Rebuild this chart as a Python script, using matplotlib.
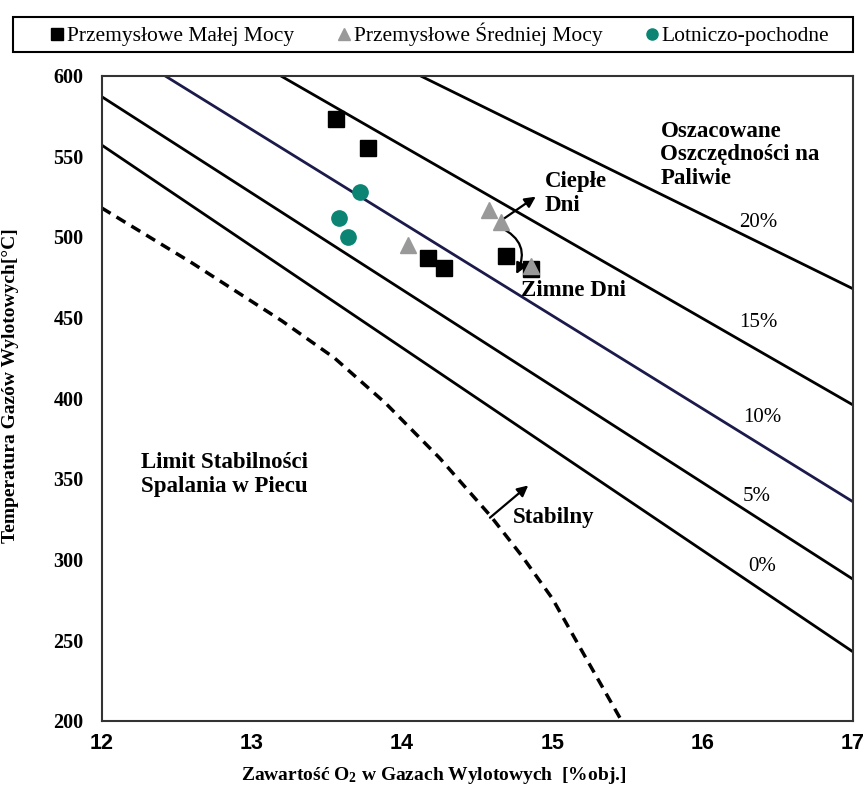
import matplotlib
matplotlib.use("Agg")
import matplotlib.pyplot as plt
from matplotlib.lines import Line2D
from matplotlib.patches import Rectangle

# measured points
small_x = [13.56, 13.77, 14.17, 14.28, 14.69, 14.86]
small_y = [573, 555, 487, 481, 488, 480]
medium_x = [14.04, 14.58, 14.66, 14.86]
medium_y = [495, 517, 509, 482]
aero_x = [13.58, 13.64, 13.72]
aero_y = [512, 500, 528]

# fuel savings lines (start / end points)
savings_labels = ['0%', '5%', '10%', '15%', '20%']
line_x0 = [12.0, 12.0, 12.42, 13.19, 14.12]
line_y0 = [557, 587, 600, 600, 600]
line_x1 = [17.0, 17.0, 17.0, 17.0, 17.0]
line_y1 = [243, 288, 336, 396, 468]
label_x = [16.40, 16.36, 16.40, 16.37, 16.37]
label_y = [296, 339, 388, 447, 509]

# furnace stability limit
limit_x = [12.0, 12.6, 13.2, 13.55, 13.89, 14.25, 14.59, 14.8, 15.0, 15.2, 15.45]
limit_y = [518, 484, 448, 425, 397, 363, 327, 302, 276, 243, 202]

plt.rcParams['font.family'] = ['Liberation Serif', 'DejaVu Serif']
plt.rcParams['mathtext.fontset'] = 'custom'
plt.rcParams['mathtext.rm'] = 'Liberation Serif:bold'
plt.rcParams['mathtext.bf'] = 'Liberation Serif:bold'
plt.rcParams['mathtext.it'] = 'Liberation Serif:bold:italic'

fig = plt.figure(figsize=(8.66, 7.89), dpi=100)
ax = fig.add_axes([0.1174, 0.0862, 0.8672, 0.8179])

for i, lab in enumerate(savings_labels):
    col = '#1b1a4a' if lab == '10%' else 'black'
    ax.plot([line_x0[i], line_x1[i]], [line_y0[i], line_y1[i]], color=col, lw=2)
    ax.text(label_x[i], label_y[i], lab, fontsize=15, ha='center', va='center')

ax.plot(limit_x, limit_y, color='black', lw=2.5, ls=(0, (3, 2)))

ax.plot(small_x, small_y, 's', color='black', ms=11, zorder=3)
ax.plot(medium_x, medium_y, '^', color='#999999', ms=11, zorder=4)
ax.plot(aero_x, aero_y, 'o', color='#0b8474', ms=11, zorder=3)

bold = dict(fontsize=16.5, fontweight='bold')
ax.text(15.72, 530, 'Oszacowane\nOszczędności na\nPaliwie', ha='left', va='bottom',
        linespacing=1.15, **bold)
ax.text(14.95, 527, 'Ciepłe\nDni', ha='left', va='center', linespacing=1.2, **bold)
ax.text(14.79, 467, 'Zimne Dni', ha='left', va='center', **bold)
ax.text(12.26, 353, 'Limit Stabilności\nSpalania w Piecu', ha='left', va='center',
        linespacing=1.2, **bold)
ax.text(14.74, 326, 'Stabilny', ha='left', va='center', **bold)

arrow = dict(arrowstyle='-|>', color='black', lw=1.6, mutation_scale=16,
             shrinkA=0, shrinkB=0)
ax.annotate('', xy=(14.89, 525), xytext=(14.672, 511), arrowprops=arrow)
ax.annotate('', xy=(14.84, 346), xytext=(14.585, 326), arrowprops=arrow)
curved = dict(arrow, connectionstyle='arc3,rad=-0.5')
ax.annotate('', xy=(14.76, 477), xytext=(14.655, 506), arrowprops=curved)

ax.set_xlim(12, 17)
ax.set_ylim(200, 600)
ax.set_xticks([12, 13, 14, 15, 16, 17])
ax.set_yticks(range(200, 601, 50))
ax.tick_params(length=0)
ax.tick_params(axis='y', pad=13, labelsize=14.5)
ax.tick_params(axis='x', pad=9, labelsize=15.5)
for t in ax.get_yticklabels():
    t.set_fontweight('bold')
for t in ax.get_xticklabels():
    t.set_fontweight('bold')
    t.set_family(['Liberation Sans Narrow', 'Liberation Sans'])
for s in ax.spines.values():
    s.set_linewidth(1.5)
    s.set_color('#333333')

ax.set_xlabel('Zawartość O$_2$ w Gazach Wylotowych  [%obj.]', fontsize=14,
              fontweight='bold')
ax.set_ylabel('Temperatura Gazów Wylotowych[°C]', fontsize=14, fontweight='bold')
ax.xaxis.set_label_coords(0.442, -0.068)
ax.yaxis.set_label_coords(-0.11, 0.52)

# legend box across the top
fig.patches.append(Rectangle((13 / 866, 1 - 52 / 789), 840 / 866, 35 / 789,
                             transform=fig.transFigure, fill=False,
                             edgecolor='black', lw=1.5))
handles = [
    Line2D([], [], ls='none', marker='s', color='black', ms=8),
    Line2D([], [], ls='none', marker='^', color='#999999', ms=8),
    Line2D([], [], ls='none', marker='o', color='#0b8474', ms=8),
]
names = ['Przemysłowe Małej Mocy', 'Przemysłowe Średniej Mocy', 'Lotniczo-pochodne']
fig.legend(handles, names, loc='center', bbox_to_anchor=(440 / 866, 1 - 34.5 / 789),
           ncol=3, frameon=False, prop={'family': 'Liberation Serif', 'size': 15.5},
           handlelength=0.6, handletextpad=0.15, columnspacing=2.0, borderpad=0)

fig.savefig('out.png', dpi=100)
